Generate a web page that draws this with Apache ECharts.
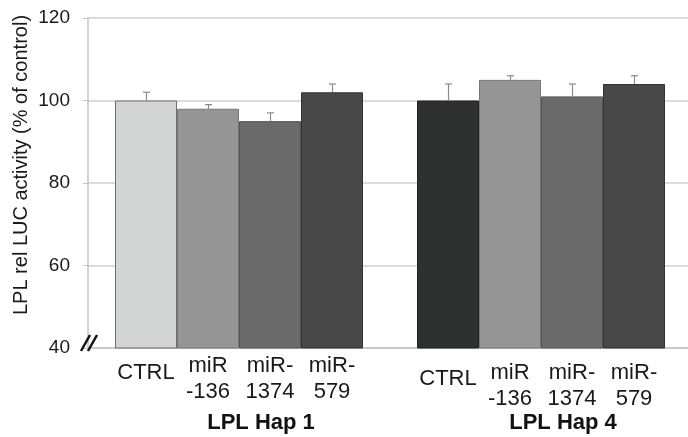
<!DOCTYPE html>
<html>
<head>
<meta charset="utf-8">
<script src="https://cdn.jsdelivr.net/npm/echarts@6/dist/echarts.min.js"></script>
<style>html,body{margin:0;padding:0;background:#fff;}#c{width:688px;height:437px;}</style>
</head>
<body>
<div id="c"></div>
<script>
// ---- data ----
var groups = ["LPL Hap 1", "LPL Hap 4"];
var seriesNames = ["CTRL", "miR-136", "miR-1374", "miR-579"];
var barLabels = ["CTRL", "miR\n-136", "miR-\n1374", "miR-\n579"];
var valuesCTRL = [100, 100];
var values136 = [98, 105];
var values1374 = [95, 101];
var values579 = [102, 104];
var errCTRL = [2, 4];
var err136 = [1, 1];
var err1374 = [2, 3];
var err579 = [2, 2];
var yTicks = [40, 60, 80, 100, 120];
var yTitle = "LPL rel LUC activity (% of control)";

// ---- styles ----
var FONT = "'Liberation Sans', Arial, sans-serif";
var fills = [["#d3d5d4", "#2f3130"], ["#959595", "#959595"], ["#6a6a6a", "#6a6a6a"], ["#474847", "#474847"]];
var borders = [["#6e6e6e", "#222"], ["#777", "#777"], ["#555", "#555"], ["#333", "#333"]];
var allValues = [valuesCTRL, values136, values1374, values579];
var allErrs = [errCTRL, err136, err1374, err579];
var BAR_W = 62;

function labelDist(g, s) {
  var multi = barLabels[s].indexOf("\n") >= 0;
  if (g === 0) return multi ? 4 : 11;
  return multi ? 11 : 17;
}

var series = seriesNames.map(function (name, s) {
  return {
    name: name,
    type: 'bar',
    barWidth: BAR_W,
    barGap: '0%',
    data: allValues[s].map(function (v, g) {
      return {
        value: v,
        itemStyle: { color: fills[s][g], borderColor: borders[s][g], borderWidth: 1 },
        label: {
          show: true,
          position: 'bottom',
          distance: labelDist(g, s),
          formatter: barLabels[s],
          fontFamily: FONT,
          fontSize: 22,
          lineHeight: 26,
          color: '#1a1a1a'
        }
      };
    }),
    z: 2
  };
});

var errData = [];
for (var g = 0; g < groups.length; g++) {
  for (var s = 0; s < seriesNames.length; s++) {
    errData.push([g, s, allValues[s][g], allErrs[s][g]]);
  }
}

series.push({
  type: 'custom',
  name: 'err',
  z: 5,
  encode: { x: 0, y: 2 },
  data: errData,
  renderItem: function (params, api) {
    var g = api.value(0), s = api.value(1), v = api.value(2), e = api.value(3);
    var p0 = api.coord([g, v]);
    var p1 = api.coord([g, v + e]);
    var x = Math.round(p0[0] + (s - 1.5) * BAR_W) + 0.5;
    var st = { stroke: '#8a8a8a', lineWidth: 1.2, fill: null };
    return {
      type: 'group',
      children: [
        { type: 'line', shape: { x1: x, y1: p0[1], x2: x, y2: p1[1] }, style: st },
        { type: 'line', shape: { x1: x - 3.5, y1: p1[1], x2: x + 3.5, y2: p1[1] }, style: st }
      ]
    };
  }
});

var chart = echarts.init(document.getElementById('c'), null, { renderer: 'canvas' });
chart.setOption({
  animation: false,
  backgroundColor: '#fff',
  grid: { left: 88, top: 18, width: 604, height: 330, containLabel: false, outerBoundsMode: 'none' },
  xAxis: {
    type: 'category',
    data: groups,
    boundaryGap: true,
    axisLine: { show: true, lineStyle: { color: '#c4c4c4', width: 1.5 } },
    axisTick: { show: false },
    axisLabel: {
      margin: 64,
      fontFamily: FONT,
      fontSize: 22,
      fontWeight: 'bold',
      color: '#111',
      padding: [0, 0, 0, 44]
    }
  },
  yAxis: {
    type: 'value',
    min: yTicks[0],
    max: yTicks[yTicks.length - 1],
    interval: 20,
    axisLine: { show: true, lineStyle: { color: '#c4c4c4', width: 1.5 } },
    axisTick: { show: true, length: 5, lineStyle: { color: '#c4c4c4' } },
    splitLine: { show: true, lineStyle: { color: '#cfcfcf', width: 1.5 } },
    axisLabel: { margin: 18, fontFamily: FONT, fontSize: 19, color: '#1a1a1a' }
  },
  graphic: [
    {
      type: 'text',
      x: 21, y: 165,
      rotation: Math.PI / 2,
      style: {
        text: yTitle,
        font: '20px ' + FONT,
        fill: '#1a1a1a',
        textAlign: 'center',
        textVerticalAlign: 'middle'
      }
    },
    { type: 'line', shape: { x1: 81, y1: 351, x2: 90, y2: 335 }, style: { stroke: '#111', lineWidth: 2.5 }, z: 10 },
    { type: 'line', shape: { x1: 88, y1: 351, x2: 97, y2: 335 }, style: { stroke: '#111', lineWidth: 2.5 }, z: 10 }
  ],
  series: series
});
</script>
</body>
</html>
